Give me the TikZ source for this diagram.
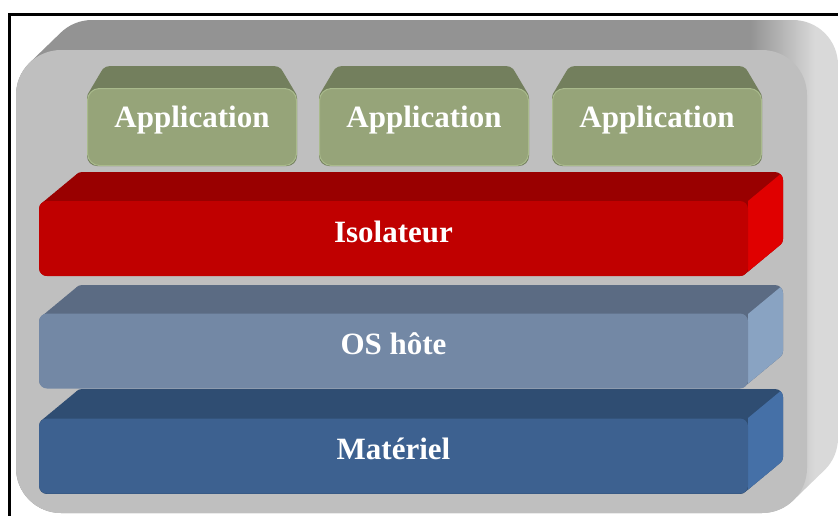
\documentclass[tikz,border=0pt]{standalone}
\usepackage{fontspec}
\setmainfont{Liberation Serif}
\usepackage{tikz}

\definecolor{boxtop}{HTML}{939393}
\definecolor{boxfront}{HTML}{BFBFBF}
\definecolor{boxside}{HTML}{D9D9D9}
\definecolor{apptop}{HTML}{737F5D}
\definecolor{appfront}{HTML}{96A479}
\definecolor{appedge}{HTML}{A9BA8C}
\definecolor{isotop}{HTML}{990000}
\definecolor{isofront}{HTML}{C00000}
\definecolor{isoside}{HTML}{E00000}
\definecolor{ostop}{HTML}{5B6B83}
\definecolor{osfront}{HTML}{7388A5}
\definecolor{osside}{HTML}{89A3C2}
\definecolor{mattop}{HTML}{2F4D72}
\definecolor{matfront}{HTML}{3D6190}
\definecolor{matside}{HTML}{4570A7}

\begin{document}
\begin{tikzpicture}[x=1pt,y=-1pt]
  \tikzstyle{lbl} = [text=white, font=\bfseries\fontsize{31}{36}\selectfont, inner sep=0pt]
  \tikzstyle{layer} = [lbl, rounded corners=8, minimum width=709, minimum height=75, text height=20pt, text depth=13pt]
  \tikzstyle{app} = [lbl, rounded corners=12, draw=appedge, line width=1pt, fill=appfront, minimum width=209, minimum height=77, text height=15pt, text depth=15pt]
  \useasboundingbox (0,0) rectangle (838,515);

  % outer box
  \begin{scope}
    \clip[rounded corners=45] \foreach \s in {0,...,30} { (16+31*\s/30, 50-30*\s/30) rectangle (807+31*\s/30, 513-30*\s/30) };
    \fill[boxtop] (0,0) rectangle (750,515);
    \shade[left color=boxtop, right color=boxside] (750,0) rectangle (815,515);
    \fill[boxside] (815,0) rectangle (838,515);
  \end{scope}
  \fill[boxfront, rounded corners=45] (16,50) rectangle (807,513);

  % applications
  \foreach \xl/\nm in {87/appa, 319/appb, 552/appc} {
    \begin{scope}
      \clip[rounded corners=10] \foreach \s in {0,...,20} { (\xl+13*\s/20, 88-22*\s/20) rectangle (\xl+210-13*\s/20, 166-26*\s/20) };
      \fill[apptop] (\xl-5,60) rectangle (\xl+215,170);
    \end{scope}
    \node[app] (\nm) at (\xl+105,127) {Application};
  }

  % layers
  \foreach \yt/\yb/\nm/\txt in {201/276/iso/Isolateur, 314/388/os/OS hôte, 418/494/mat/Matériel} {
    \begin{scope}
      \clip[rounded corners=8] \foreach \s in {0,...,20} { (39+35*\s/20, \yt-29*\s/20) rectangle (748+35*\s/20, \yb-29*\s/20) };
      \fill[\nm top] (30,\yt-40) rectangle (790,\yb);
      \fill[\nm side] (748,\yt) -- ++(70,-58) -- (800,\yb+10) -- (748,\yb+10) -- cycle;
    \end{scope}
    \node[layer, fill=\nm front] (\nm) at (393.5,{(\yt+\yb)/2}) {\txt};
  }

  % frame
  \draw[line width=3pt] (9.5,520) |- (845,14.5);
\end{tikzpicture}
\end{document}
